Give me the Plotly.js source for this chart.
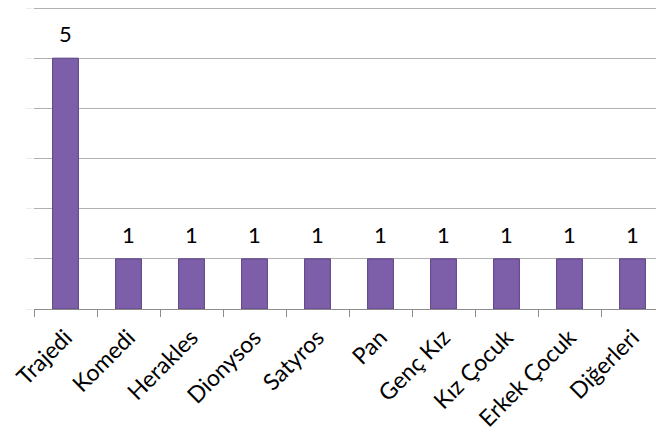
<!DOCTYPE html>
<html>
<head>
<meta charset="utf-8">
<script src="https://cdn.plot.ly/plotly-3.0.1.min.js"></script>
<style>html,body{margin:0;padding:0;background:#fff;}#chart{width:656px;height:433px;}</style>
</head>
<body>
<div id="chart"></div>
<script>
const categories = ["Trajedi", "Komedi", "Herakles", "Dionysos", "Satyros", "Pan", "Genç Kız", "Kız Çocuk", "Erkek Çocuk", "Diğerleri"];
const counts = [5, 1, 1, 1, 1, 1, 1, 1, 1, 1];
const valueLabels = ["5", "1", "1", "1", "1", "1", "1", "1", "1", "1"];

const FONT = "Lato, 'Open Sans', sans-serif";

const trace = {
  type: "bar",
  x: categories,
  y: counts,
  width: 0.41,
  marker: { color: "#7d5ea8", line: { color: "#5e4386", width: 1 } },
  hoverinfo: "none"
};

const annotations = categories.map((c, i) => ({
  x: c, y: counts[i], text: valueLabels[i],
  showarrow: false, yanchor: "bottom", yshift: 9,
  font: { family: FONT, size: 22, color: "#000" }
}));

const layout = {
  width: 656, height: 433,
  margin: { l: 34, r: 0, t: 3, b: 124 },
  paper_bgcolor: "#fff", plot_bgcolor: "#fff",
  showlegend: false,
  xaxis: {
    type: "category",
    range: [-0.5, 9.373],
    showline: true, linecolor: "#8c8c8c", linewidth: 1,
    ticks: "outside", tickson: "boundaries", ticklen: 7, tickcolor: "#8c8c8c",
    tickangle: -45,
    ticklabelstandoff: 5,
    tickfont: { family: FONT, size: 23, color: "#000" },
    showgrid: false, zeroline: false
  },
  yaxis: {
    range: [0, 6.1], dtick: 1,
    showgrid: true, gridcolor: "#b0b0b0", gridwidth: 1,
    showline: false, zeroline: false,
    ticks: "outside", ticklen: 7, tickcolor: "#ececec",
    showticklabels: false
  },
  annotations: annotations
};

Plotly.newPlot("chart", [trace], layout, { displayModeBar: false, staticPlot: true });
</script>
</body>
</html>
